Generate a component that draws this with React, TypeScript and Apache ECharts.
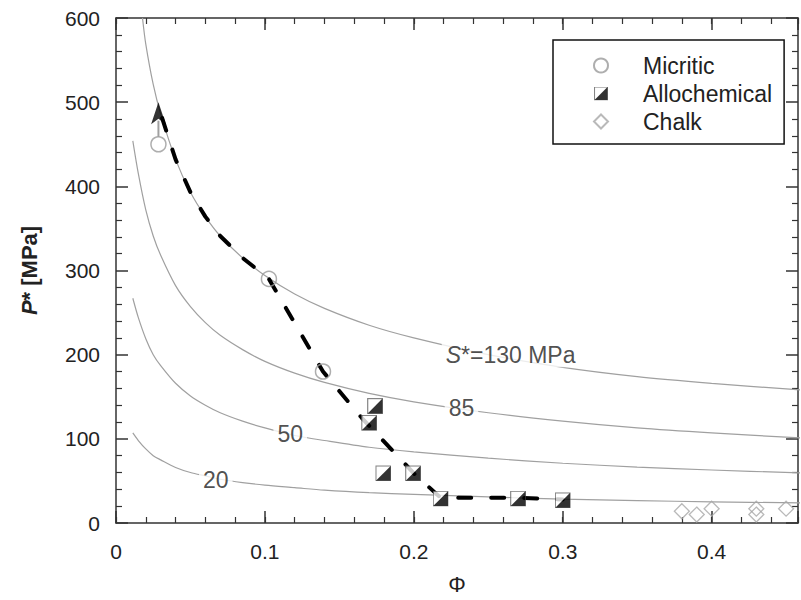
import React, { useEffect, useRef } from 'react';
import * as echarts from 'echarts';

const FONT = '"Liberation Sans", Arial, Helvetica, sans-serif';

// Model curves P* (MPa) vs porosity
const curvePhi = [0.0113, 0.015, 0.02, 0.025, 0.03, 0.04, 0.05, 0.06, 0.07, 0.085, 0.1, 0.12, 0.14, 0.17, 0.2, 0.25, 0.3, 0.35, 0.4, 0.46];
const curve85 = [454, 415, 372, 341, 318, 282, 257, 238, 223, 206, 192, 178, 167, 154, 144, 131, 121, 113, 107, 101];
const curve50 = [267, 244, 219, 200, 187, 166, 151, 140, 131, 121, 113, 104, 98, 90, 84.5, 77, 71, 66.5, 63, 59.5];
const curve20 = [107, 98, 88, 80, 75, 66, 60, 56, 52, 48, 45, 42, 39, 36, 34, 31, 28.4, 26.6, 25.2, 23.8];
const curve130Phi = [0.0178, 0.02, 0.025, 0.03, 0.04, 0.05, 0.06, 0.07, 0.085, 0.1, 0.12, 0.14, 0.17, 0.2, 0.25, 0.3, 0.35, 0.4, 0.46];
const curve130 = [600, 569, 521, 486, 432, 393, 364, 341, 315, 294, 272, 255, 235, 220, 200, 185, 174, 166, 158];

// Data points
const micriticPhi = [0.0285, 0.1027, 0.139];
const micriticP = [450, 290, 180];
const alloPhi = [0.174, 0.17, 0.1795, 0.1995, 0.218, 0.27, 0.3];
const alloP = [139, 119, 59, 59, 29, 29, 27];
const chalkPhi = [0.38, 0.39, 0.4, 0.43, 0.43, 0.45];
const chalkP = [14, 10, 17, 17, 10, 17];

// Dashed trend
const trendPhi = [0.031, 0.04, 0.05, 0.06, 0.07, 0.085, 0.1027, 0.139, 0.165, 0.2, 0.218, 0.27, 0.3];
const trendP = [481, 432, 393, 364, 341, 315, 290, 180, 125, 59, 30, 30, 28];

// Arrow from micritic point up to the curve
const arrowPhi = [0.0285, 0.0285];
const arrowP = [459, 478];
const arrowHead = [0.0285, 500];

// Curve labels
const labelPhi = [0.265, 0.232, 0.117, 0.067];
const labelP = [200, 137, 106, 51];
const labelText = ['{i|S}*=130 MPa', '85', '50', '20'];

const xTickLabels = ['0', '0.1', '0.2', '0.3', '0.4'];

const zip = (xs: number[], ys: number[]) => xs.map((x, i) => [x, ys[i]]);

const squareSvg =
  "<svg xmlns='http://www.w3.org/2000/svg' width='32' height='32' viewBox='0 0 16 16'>" +
  "<rect x='0.6' y='0.6' width='14.8' height='14.8' fill='#ffffff' stroke='#666666' stroke-width='1.2'/>" +
  "<polygon points='15.4,0.6 15.4,15.4 0.6,15.4' fill='#000000'/></svg>";
const squareSymbol = 'image://data:image/svg+xml;charset=utf-8,' + encodeURIComponent(squareSvg);

const X_MAX = 0.458;
const axisColor = '#333';

function xAxisCfg(position: 'top' | 'bottom', major: boolean, withLabels: boolean) {
  return {
    type: 'value',
    position,
    min: 0,
    max: X_MAX,
    interval: major ? 0.1 : 0.02,
    axisLine: { show: major, onZero: false, lineStyle: { color: axisColor, width: 1.5 } },
    axisTick: { show: true, inside: true, length: major ? 12 : 6, lineStyle: { color: axisColor, width: major ? 1.5 : 1.2 } },
    axisLabel: withLabels
      ? {
          show: true,
          margin: 18,
          fontSize: 21,
          color: '#222',
          fontFamily: FONT,
          formatter: (v: number) => {
            const k = Math.round(v * 10);
            return Math.abs(v * 10 - k) < 1e-6 && k < xTickLabels.length ? xTickLabels[k] : '';
          },
        }
      : { show: false },
    splitLine: { show: false },
    ...(withLabels
      ? {
          name: 'Φ',
          nameLocation: 'middle',
          nameGap: 50,
          nameTextStyle: { fontSize: 22, color: '#222', fontFamily: FONT },
        }
      : {}),
  };
}

function yAxisCfg(position: 'left' | 'right', withLabels: boolean) {
  return {
    type: 'value',
    position,
    min: 0,
    max: 600,
    interval: 100,
    axisLine: { show: true, onZero: false, lineStyle: { color: axisColor, width: 1.5 } },
    axisTick: { show: true, inside: true, length: 12, lineStyle: { color: axisColor, width: 1.5 } },
    minorTick: { show: true, splitNumber: 5, length: 6, lineStyle: { color: axisColor, width: 1.2 } },
    axisLabel: withLabels
      ? { show: true, margin: 16, fontSize: 21, color: '#222', fontFamily: FONT }
      : { show: false },
    splitLine: { show: false },
    ...(withLabels
      ? {
          name: '{i|P}{b|* [MPa]}',
          nameLocation: 'middle',
          nameGap: 76,
          nameTextStyle: {
            rich: {
              i: { fontStyle: 'italic', fontWeight: 'bold', fontSize: 22, color: '#222', fontFamily: FONT },
              b: { fontWeight: 'bold', fontSize: 22, color: '#222', fontFamily: FONT },
            },
          },
        }
      : {}),
  };
}

const curveLine = (data: number[][]) => ({
  type: 'line',
  data,
  showSymbol: false,
  smooth: 0.3,
  silent: true,
  z: 2,
  lineStyle: { color: '#a0a0a0', width: 1.2 },
});

const option: any = {
  animation: false,
  backgroundColor: '#ffffff',
  textStyle: { fontFamily: FONT },
  grid: { left: 116, right: -2, top: 18, bottom: 76, containLabel: false },
  legend: {
    orient: 'vertical',
    left: 553,
    top: 40,
    data: ['Micritic', 'Allochemical', 'Chalk'],
    itemWidth: 14,
    itemHeight: 14,
    itemGap: 5,
    padding: [14, 12, 11, 40],
    borderColor: '#111',
    borderWidth: 1.5,
    backgroundColor: '#ffffff',
    selectedMode: false,
    textStyle: { fontSize: 23, color: '#222', fontFamily: FONT, padding: [0, 0, 0, 30] },
    z: 10,
  },
  xAxis: [
    xAxisCfg('bottom', true, true),
    xAxisCfg('top', true, false),
    xAxisCfg('bottom', false, false),
    xAxisCfg('top', false, false),
  ],
  yAxis: [yAxisCfg('left', true), yAxisCfg('right', false)],
  series: [
    curveLine(zip(curve130Phi, curve130)),
    curveLine(zip(curvePhi, curve85)),
    curveLine(zip(curvePhi, curve50)),
    curveLine(zip(curvePhi, curve20)),
    {
      type: 'line',
      data: zip(arrowPhi, arrowP),
      showSymbol: false,
      silent: true,
      z: 3,
      lineStyle: { color: '#a0a0a0', width: 2 },
    },
    {
      type: 'line',
      data: zip(trendPhi, trendP),
      showSymbol: false,
      silent: true,
      z: 3,
      lineStyle: { color: '#000', width: 4, type: [13, 20], cap: 'round' },
    },
    {
      type: 'scatter',
      data: [arrowHead],
      symbol: 'arrow',
      symbolSize: [11, 22],
      silent: true,
      z: 4,
      itemStyle: { color: '#000' },
    },
    {
      name: 'Micritic',
      type: 'scatter',
      data: zip(micriticPhi, micriticP),
      symbol: 'circle',
      symbolSize: 15,
      z: 5,
      itemStyle: { color: 'rgba(255,255,255,0)', borderColor: '#9a9a9a', borderWidth: 1.5 },
    },
    {
      name: 'Allochemical',
      type: 'scatter',
      data: zip(alloPhi, alloP),
      symbol: squareSymbol,
      symbolSize: 16,
      z: 5,
      itemStyle: { color: '#000' },
    },
    {
      name: 'Chalk',
      type: 'scatter',
      data: zip(chalkPhi, chalkP),
      symbol: 'diamond',
      symbolSize: 15,
      z: 5,
      itemStyle: { color: 'rgba(255,255,255,0)', borderColor: '#a8a8a8', borderWidth: 1.3 },
    },
    {
      type: 'scatter',
      silent: true,
      z: 6,
      symbol: 'rect',
      symbolSize: 1,
      itemStyle: { color: 'rgba(0,0,0,0)' },
      label: {
        show: true,
        position: 'inside',
        fontSize: 23,
        color: '#222',
        fontFamily: FONT,
        backgroundColor: '#ffffff',
        padding: [1, 4],
        rich: { i: { fontStyle: 'italic', fontSize: 23, color: '#222', fontFamily: FONT } },
      },
      data: labelPhi.map((x, i) => ({ value: [x, labelP[i]], label: { formatter: labelText[i] } })),
    },
  ],
};

export default function App() {
  const ref = useRef<HTMLDivElement>(null);
  useEffect(() => {
    if (!ref.current) return;
    const chart = echarts.init(ref.current, null, { renderer: 'svg', width: 801, height: 600 });
    chart.setOption(option);
    return () => chart.dispose();
  }, []);
  return (
    <div
      ref={ref}
      style={{ position: 'absolute', left: 0, top: 0, width: 801, height: 600, background: '#fff' }}
    />
  );
}
